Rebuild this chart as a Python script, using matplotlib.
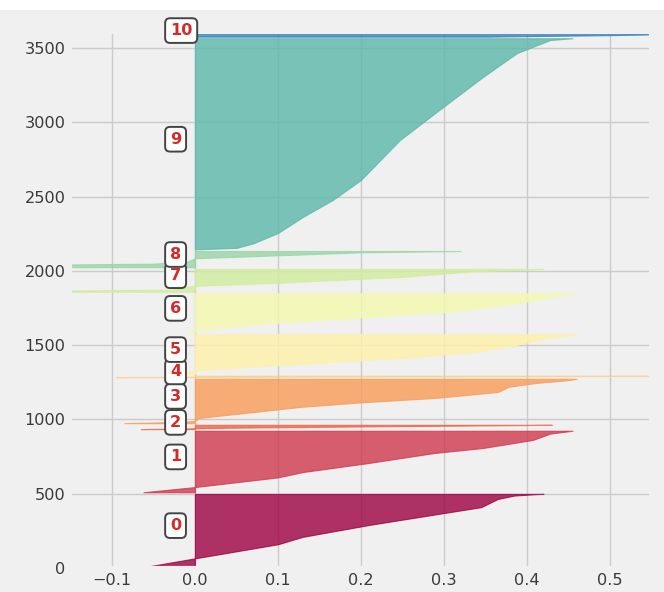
import numpy as np
import matplotlib
matplotlib.use("Agg")
import matplotlib.pyplot as plt
from matplotlib.patches import Rectangle

# nombre d'échantillons par cluster (de bas en haut)
cluster_sizes = [490, 415, 30, 300, 10, 270, 265, 155, 110, 1422, 21]

# profil de silhouette trié de chaque cluster : rang dans le cluster -> valeur
profile_ranks = [
    [0, 55, 150, 200, 280, 360, 400, 455, 478, 487, 489],
    [0, 35, 100, 136, 196, 264, 298, 352, 395, 414],
    [0, 4, 10, 18, 25, 29],
    [0, 8, 15, 35, 110, 140, 170, 210, 245, 270, 290, 299],
    [0, 2, 5, 8, 9],
    [0, 25, 60, 110, 150, 200, 240, 262, 269],
    [0, 17, 60, 138, 200, 240, 264],
    [0, 8, 14, 40, 60, 100, 135, 150, 154],
    [0, 18, 24, 35, 60, 80, 100, 109],
    [0, 10, 40, 110, 218, 332, 467, 736, 958, 1160, 1321, 1409, 1421],
    [0, 10, 20],
]
profile_values = [
    [-0.057, 0.0, 0.1, 0.13, 0.21, 0.30, 0.345, 0.365, 0.385, 0.41, 0.42],
    [-0.062, 0.0, 0.1, 0.13, 0.208, 0.288, 0.347, 0.407, 0.428, 0.455],
    [-0.065, -0.02, 0.05, 0.2, 0.35, 0.43],
    [-0.085, -0.02, 0.0, 0.005, 0.128, 0.2, 0.29, 0.365, 0.378, 0.41, 0.45, 0.46],
    [-0.095, -0.02, 0.2, 0.5, 0.62],
    [-0.02, 0.0, 0.1, 0.25, 0.34, 0.39, 0.42, 0.45, 0.46],
    [-0.01, 0.0, 0.08, 0.3, 0.39, 0.43, 0.46],
    [-0.2, -0.16, -0.03, 0.0, 0.1, 0.25, 0.33, 0.4, 0.42],
    [-0.3, -0.16, -0.05, -0.01, 0.0, 0.1, 0.2, 0.32],
    [0.0, 0.05, 0.07, 0.1, 0.13, 0.166, 0.2, 0.247, 0.299, 0.347, 0.388, 0.428, 0.455],
    [0.35, 0.5, 0.6],
]

x_ticks = [-0.1, 0.0, 0.1, 0.2, 0.3, 0.4, 0.5]
y_ticks = [0, 500, 1000, 1500, 2000, 2500, 3000, 3500]
lim_x = [-0.15, 0.55]

plt.style.use('fivethirtyeight')
plt.rcParams['font.size'] = 11.6
plt.rcParams['font.family'] = ['DejaVu Sans']

n_clusters = len(cluster_sizes)
mat_size = sum(cluster_sizes)

fig = plt.figure(figsize=(6.64, 5.92), dpi=100)
fig.patches.append(Rectangle((0, 1 - 10 / 592), 1, 10 / 592, transform=fig.transFigure,
                             facecolor='white', edgecolor='none', zorder=0))
ax = fig.add_axes([0.106, 0.0405, 0.875, 0.9054])
ax.set_xlim(lim_x)
ax.set_ylim([0, mat_size + (n_clusters + 1) * 10])

cmap = matplotlib.colormaps['Spectral']
y_lower = 10
for i in range(n_clusters):
    size_i = cluster_sizes[i]
    y = y_lower + np.array(profile_ranks[i])
    color = cmap(float(i) / n_clusters)
    ax.fill_betweenx(y, 0, profile_values[i], facecolor=color, edgecolor=color,
                     linewidth=0.8, alpha=0.8)
    ax.text(-0.03, y_lower + 0.5 * size_i, str(i), color='#d42a2a', fontweight='bold',
            fontsize=11.6,
            bbox=dict(facecolor='white', edgecolor='#444444', linewidth=1.4,
                      boxstyle='round, pad=0.3'))
    y_lower = y_lower + size_i + 10

ax.set_xticks(x_ticks)
ax.set_yticks(y_ticks)
ax.tick_params(colors='#3a3a3a', labelsize=11.6)
ax.grid(True, color='#cbcbcb', linewidth=1.0)

fig.savefig('out.png', dpi=100)
